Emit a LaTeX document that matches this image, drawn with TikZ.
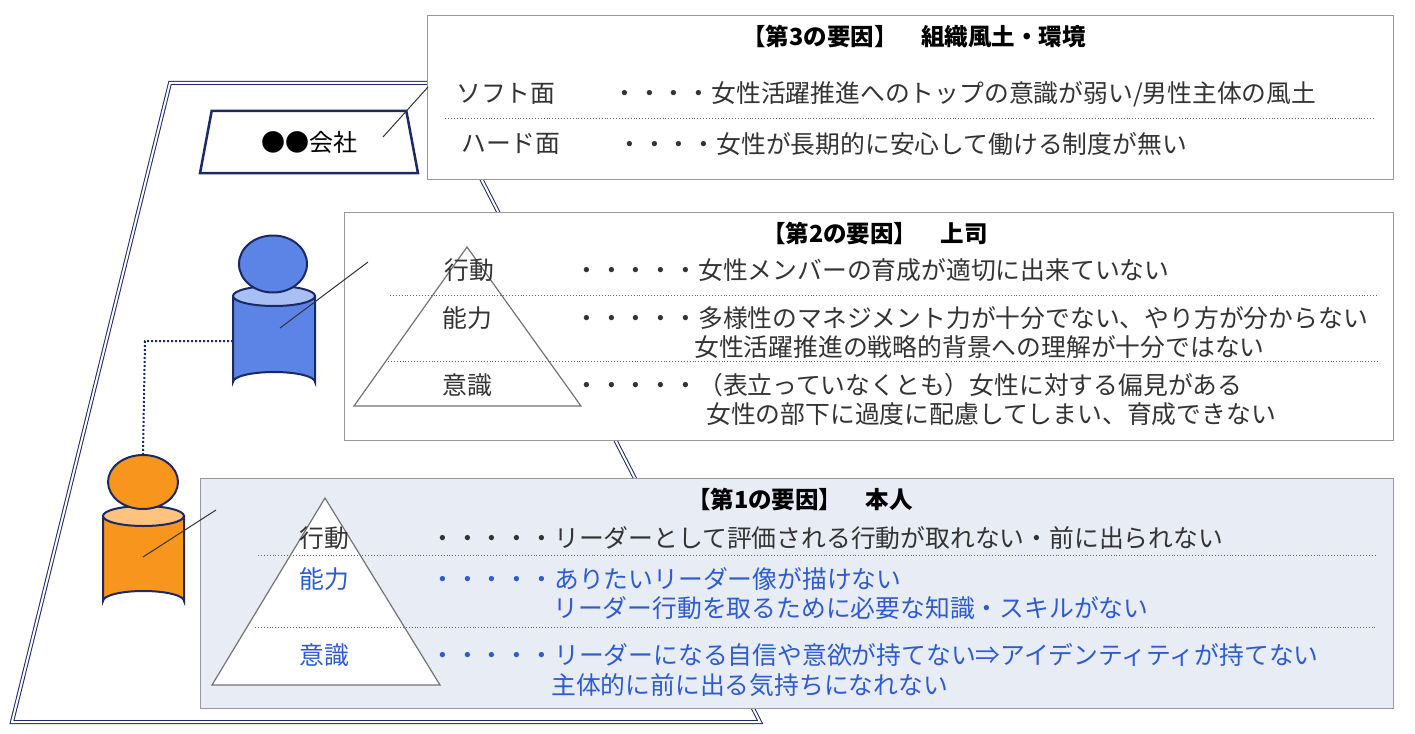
\documentclass[tikz,border=0pt]{standalone}
\usepackage{fontspec}
\setmainfont{Noto Sans CJK JP}
\usetikzlibrary{shapes.geometric}
\definecolor{navy}{HTML}{1B2866}
\definecolor{bluep}{HTML}{5B84E6}
\definecolor{bluet}{HTML}{A9BEF2}
\definecolor{orp}{HTML}{F7951D}
\definecolor{ort}{HTML}{FFC27F}
\definecolor{btxt}{HTML}{2E5BCF}
\definecolor{bx}{HTML}{E8ECF5}
\begin{document}
\begin{tikzpicture}[x=1pt,y=-1pt,
 box/.style={draw=black!40,line width=1pt},
 sep/.style={draw=black!60,dotted,line width=0.9pt},
 tri/.style={draw=black!55,line width=1.2pt,fill=white},
 t/.style={anchor=west,inner sep=0,font=\fontsize{24.8}{28}\selectfont,text=black!80},
 bt/.style={t,text=btxt},
 ttl/.style={inner sep=0,font=\fontsize{23.5}{27}\selectfont\bfseries},
 link/.style={draw=black!80,line width=1pt}]
\useasboundingbox (0,0) rectangle (1415,733);
% big parallelogram
\draw[navy,double=white,double distance=2pt,line width=1pt] (170,83) -- (432,83) -- (760,722) -- (12,722) -- cycle;
% box 3
\node[box,fill=white,minimum width=966pt,minimum height=164pt,anchor=north west] (b3) at (427,15) {};
\node[ttl] (t3) at (914,37) {【第3の要因】　組織風土・環境};
\node[t] (s1) at (456,94) {ソフト面};
\node[t] (s1d) at (612,94) {・・・・女性活躍推進へのトップの意識が弱い/男性主体の風土};
\draw[sep] (445,118) -- (1375,118);
\node[t] (s2) at (461,144) {ハード面};
\node[t] (s2d) at (617,144) {・・・・女性が長期的に安心して働ける制度が無い};
% company
\node[draw=navy,line width=2.5pt,trapezium,trapezium stretches=true,trapezium angle=78,minimum width=218pt,minimum height=62pt,fill=white,font=\fontsize{24}{28}\selectfont] (co) at (309,142) {●●会社};
\coordinate (c3) at (428,87);
\draw[link] (383,137) -- (c3);
% box 2
\node[box,fill=white,minimum width=1049pt,minimum height=228pt,anchor=north west] (b2) at (344,212) {};
\node[ttl] (t2) at (875,234) {【第2の要因】　上司};
\draw[tri] (467,247) -- (581,406) -- (354,406) -- cycle;
\draw[sep] (390,295) -- (1378,295);
\draw[sep] (388,361) -- (1378,361);
\node[t] at (444,270) {行動};
\node[t] at (574,270) {・・・・・女性メンバーの育成が適切に出来ていない};
\node[t] at (442,318) {能力};
\node[t] at (574,318) {・・・・・多様性のマネジメント力が十分でない、やり方が分からない};
\node[t] at (694,347) {女性活躍推進の戦略的背景への理解が十分ではない};
\node[t] at (442,385) {意識};
\node[t] at (574,385) {・・・・・（表立っていなくとも）女性に対する偏見がある};
\node[t] at (706,414) {女性の部下に過度に配慮してしまい、育成できない};
% box 1
\node[box,fill=bx,minimum width=1193pt,minimum height=230pt,anchor=north west] (b1) at (200,478) {};
\node[ttl] (t1) at (800,500) {【第1の要因】　本人};
\draw[tri] (325,498) -- (440,685) -- (212,685) -- cycle;
\draw[sep] (258,555) -- (1375,555);
\draw[sep] (255,627) -- (1375,627);
\node[t] at (299,538) {行動};
\node[t] at (430,538) {・・・・・リーダーとして評価される行動が取れない・前に出られない};
\node[bt] at (299,579) {能力};
\node[bt] at (430,579) {・・・・・ありたいリーダー像が描けない};
\node[bt] at (553,608) {リーダー行動を取るために必要な知識・スキルがない};
\node[bt] at (299,655) {意識};
\node[bt] at (430,655) {・・・・・リーダーになる自信や意欲が持てない⇒アイデンティティが持てない};
\node[bt] at (551,685) {主体的に前に出る気持ちになれない};
% blue person
\draw[navy,line width=2pt,fill=bluep] (233,296) -- (233,382) arc[x radius=41,y radius=10,start angle=180,end angle=360] -- (315,296);
\draw[navy,line width=2pt,fill=bluet] (274,296) ellipse [x radius=41,y radius=10];
\node[draw=navy,line width=2pt,fill=bluep,ellipse,minimum width=68pt,minimum height=57pt] (h2) at (273,264) {};
\coordinate (p2) at (280,328);
\coordinate (e2) at (368,262);
\draw[link] (p2) -- (e2);
% orange person
\draw[navy,line width=2pt,fill=orp] (103,516) -- (103,601) arc[x radius=40.5,y radius=10,start angle=180,end angle=360] -- (184,516);
\draw[navy,line width=2pt,fill=ort] (143.5,516) ellipse [x radius=40.5,y radius=10];
\node[draw=navy,line width=2pt,fill=orp,ellipse,minimum width=70pt,minimum height=54pt] (h1) at (143,482) {};
\coordinate (p1) at (143,557);
\coordinate (e1) at (216,510);
\draw[link] (p1) -- (e1);
% dotted connection
\coordinate (d1) at (233,341);
\draw[navy,dotted,line width=2pt] (d1) -- (145,341) -- (h1.north);
\end{tikzpicture}
\end{document}
